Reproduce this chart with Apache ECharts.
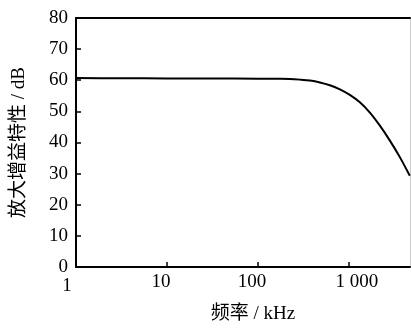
<!DOCTYPE html>
<html>
<head>
<meta charset="utf-8">
<script src="https://cdn.jsdelivr.net/npm/echarts@6/dist/echarts.min.js"></script>
<style>html,body{margin:0;padding:0;background:#fff}#c{width:411px;height:329px}</style>
</head>
<body>
<div id="c"></div>
<script>
var freqKHz = [1, 3, 10, 30, 100, 160, 225, 290, 373, 480, 618, 797, 1025, 1321, 1702, 2193, 2825, 3634, 4680];
var gainDB = [60.7, 60.65, 60.6, 60.55, 60.5, 60.45, 60.4, 60.2, 59.9, 59.3, 58.4, 57.1, 55.3, 52.9, 49.6, 45.4, 40.6, 35.3, 29.3];
var xTickLabels = {1: '1', 10: '10', 100: '100', 1000: '1 000'};
var yMin = 0, yMax = 80, yStep = 10;
var xMin = 1, xMax = 4700;
var xName = '频率 / kHz';
var yName = '放大增益特性 / dB';

var font = '"Liberation Serif", "Noto Sans CJK SC", serif';
var chart = echarts.init(document.getElementById('c'));
var pts = freqKHz.map(function (f, i) { return [f, gainDB[i]]; });
chart.setOption({
  animation: false,
  grid: {left: 76, right: 1, top: 18, bottom: 61},
  xAxis: [{
    type: 'log', logBase: 10, min: xMin, max: xMax,
    name: xName, nameLocation: 'middle', nameGap: 38,
    nameTextStyle: {fontFamily: font, fontSize: 19, color: '#000', padding: [0, 0, 0, 20]},
    axisLine: {onZero: false, lineStyle: {color: '#000', width: 2}},
    axisTick: {inside: true, length: 5, lineStyle: {color: '#000', width: 1.5}},
    minorTick: {show: false},
    splitLine: {show: false},
    axisLabel: {
      margin: 6, fontFamily: font, fontSize: 19, color: '#000',
      showMaxLabel: false,
      formatter: function (v) {
        var p = Math.round(Math.log10(v));
        if (Math.abs(Math.log10(v) - p) > 1e-6) return '';
        var k = Math.pow(10, p);
        if (!(k in xTickLabels)) return '';
        var key = k === 1 ? 'a' : (k === 1000 ? 'c' : 'b');
        return '{' + key + '|' + xTickLabels[k] + '}';
      },
      rich: {
        a: {fontFamily: font, fontSize: 19, color: '#000', padding: [4, 18, 0, 0]},
        b: {fontFamily: font, fontSize: 19, color: '#000', padding: [0, 12, 0, 0]},
        c: {fontFamily: font, fontSize: 19, color: '#000', padding: [0, 0, 0, 16]}
      }
    }
  }, {
    type: 'log', logBase: 10, min: xMin, max: xMax, position: 'top',
    axisLine: {onZero: false, lineStyle: {color: '#000', width: 2}},
    axisTick: {show: false}, axisLabel: {show: false}, splitLine: {show: false}
  }],
  yAxis: [{
    type: 'value', min: yMin, max: yMax, interval: yStep,
    name: yName, nameLocation: 'middle', nameGap: 47,
    nameTextStyle: {fontFamily: font, fontSize: 19, color: '#000'},
    axisLine: {show: true, onZero: false, lineStyle: {color: '#000', width: 2}},
    axisTick: {show: true, inside: true, length: 5, lineStyle: {color: '#000', width: 1.5}},
    splitLine: {show: false},
    axisLabel: {margin: 8, fontFamily: font, fontSize: 19, color: '#000'}
  }, {
    type: 'value', min: yMin, max: yMax, position: 'right',
    axisLine: {show: true, onZero: false, lineStyle: {color: '#ccc', width: 1}},
    axisTick: {show: false}, axisLabel: {show: false}, splitLine: {show: false}
  }],
  series: [{
    type: 'line', data: pts, smooth: 0.3, showSymbol: false,
    lineStyle: {color: '#000', width: 2}
  }]
});
</script>
</body>
</html>
